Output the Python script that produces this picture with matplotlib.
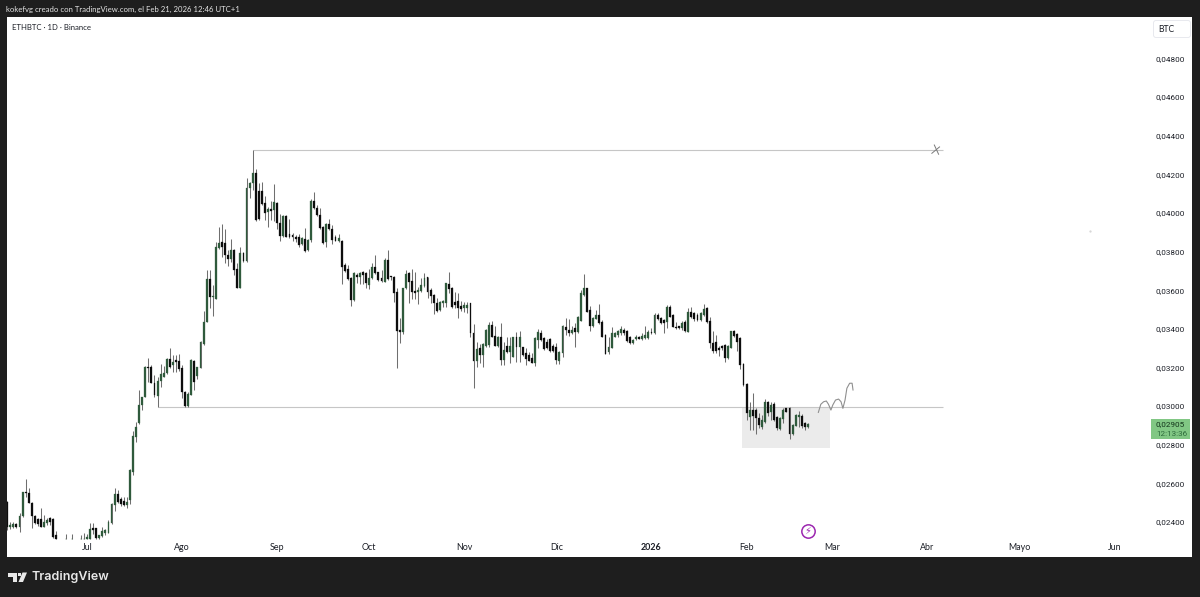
import numpy as np
import pandas as pd
import matplotlib
matplotlib.use("Agg")
import matplotlib.pyplot as plt
from matplotlib.patches import Rectangle, Polygon, FancyBboxPatch
from matplotlib.transforms import IdentityTransform

plt.rcParams['font.family'] = ['Lato', 'DejaVu Sans']

# Daily ETHBTC quotes from 2025-06-05, in units of 0.00001 BTC
n = float('nan')
opens = [2505,2375,2375,2389,2375,2430,2553,2551,2499,2430,2413,2413,2375,2392,2418,2415,2332,n,n,2310,n,2310,n,n,2310,2310,
 2310,2310,2367,2367,2315,2327,2344,2344,2396,2487,2543,2517,2510,2487,2513,2660,2841,2910,3005,3048,3200,3204,3121,3052,
 3131,3152,3169,3242,3212,3238,3235,3195,3074,3002,3057,3235,3155,3195,3321,3437,3656,3563,3552,3817,3851,3843,3782,3760,3808,3708,
 3610,3794,3753,4131,4153,4209,4115,4115,4050,4005,4019,4015,4050,3946,3881,3984,3891,3886,3877,3874,3839,3863,3808,3860,
 4062,4024,3990,3926,3851,3943,3915,3874,3855,3856,3730,3708,3661,3549,3679,3670,3696,3687,3627,3661,3718,3692,3661,3644,3756,3672,
 3670,3592,3394,3385,3610,3687,3649,3597,3593,3597,3622,3667,3601,3575,3535,3497,3532,3535,3632,3613,3540,3544,3520,3506,3507,3532,
 3376,3235,3298,3264,3311,3316,3420,3363,3311,3356,3238,3311,3281,3256,3359,3304,3304,3273,3264,3250,3221,3342,3380,3351,3330,3345,
 3311,3307,3235,3276,3411,3394,3380,3402,3385,3442,3575,3609,3497,3414,3449,3471,3436,3367,3281,3303,3359,3367,3376,3393,3390,3359,
 3324,3345,3355,3345,3350,3350,3384,3376,3471,3454,3445,3433,3514,3471,3411,3412,3402,3436,3385,3488,3480,3471,3445,3471,3506,3442,
 3324,3333,3298,3310,3316,3247,3302,3390,3373,3350,3217,3114,2944,2979,2979,2936,2893,2919,3022,2970,3013,2944,2879,2931,2988,2991,
 2855,2896,2941,2948,2910,2893]
highs = [2510,2401,2401,2396,2444,2556,2622,2574,2503,2433,2418,2470,2436,2418,2427,2418,2354,n,n,2337,n,2337,n,n,2332,2340,
 2337,2392,2392,2370,2332,2375,2365,2410,2499,2574,2565,2531,2531,2531,2672,2872,2919,3083,3048,3207,3247,3212,3160,3152,
 3217,3207,3247,3299,3264,3264,3269,3212,3080,3074,3242,3238,3204,3337,3494,3704,3704,3627,3851,3926,3943,3915,3808,3863,3812,3739,
 3822,3800,4179,4162,4326,4226,4153,4159,4088,4033,4064,4148,4058,3995,3989,3989,3967,3894,3886,3891,3877,3924,3863,4071,
 4110,4041,4024,3933,3946,3967,3938,3886,3889,3860,3739,3730,3667,3692,3687,3696,3701,3696,3708,3739,3782,3696,3705,3765,3808,3673,
 3673,3613,3454,3613,3705,3696,3710,3696,3618,3661,3691,3670,3610,3580,3558,3544,3549,3639,3696,3615,3592,3584,3544,3540,3540,3535,
 3423,3333,3321,3325,3397,3437,3440,3414,3363,3432,3333,3359,3359,3359,3385,3390,3307,3299,3281,3276,3356,3397,3394,3356,3345,3351,
 3321,3328,3285,3418,3454,3449,3414,3428,3466,3601,3683,3613,3518,3462,3497,3528,3445,3373,3355,3407,3385,3393,3416,3402,3393,3362,
 3345,3367,3362,3376,3414,3393,3402,3480,3480,3459,3449,3523,3523,3476,3436,3414,3442,3445,3506,3514,3488,3480,3488,3528,3514,3459,
 3390,3367,3310,3316,3321,3316,3390,3393,3376,3355,3221,3117,3022,3065,2988,2962,2953,3034,3027,3022,3019,2948,2944,2988,2991,2993,
 2906,2958,2975,2958,2918,2913]
lows = [2360,2361,2367,2367,2349,2427,2527,2496,2366,2389,2379,2372,2372,2384,2384,2315,2310,n,n,2310,n,2310,n,n,2310,2310,
 2310,2310,2337,2310,2310,2323,2330,2344,2389,2458,2499,2482,2482,2470,2493,2643,2815,2907,2979,3045,3126,3117,3048,2996,
 3097,3148,3166,3195,3178,3178,3183,3040,2996,2996,3057,3083,3138,3195,3316,3437,3506,3466,3552,3812,3774,3739,3725,3748,3679,3610,
 3610,3748,3748,4076,4119,3960,3963,4041,3963,3926,3963,3958,3915,3855,3874,3874,3869,3856,3851,3822,3834,3799,3805,3851,
 4019,3984,3915,3839,3822,3912,3839,3853,3851,3632,3695,3653,3518,3546,3635,3632,3632,3610,3606,3656,3684,3649,3644,3644,3653,3655,
 3541,3195,3325,3371,3604,3532,3553,3553,3527,3592,3618,3558,3535,3477,3489,3492,3515,3511,3584,3506,3506,3458,3494,3489,3484,3356,
 3091,3200,3224,3200,3307,3307,3356,3311,3307,3212,3212,3276,3224,3252,3230,3230,3259,3212,3235,3221,3207,3299,3338,3290,3294,3281,
 3281,3218,3218,3256,3368,3362,3373,3307,3380,3438,3571,3485,3390,3411,3449,3424,3355,3267,3267,3298,3355,3355,3367,3367,3333,3321,
 3321,3341,3345,3341,3345,3345,3373,3373,3445,3424,3380,3402,3459,3407,3398,3397,3393,3385,3381,3454,3442,3442,3442,3466,3431,3298,
 3276,3276,3259,3290,3229,3243,3300,3355,3286,3190,3103,2927,2875,2875,2855,2884,2879,2913,2948,2927,2924,2875,2875,2910,2967,2827,
 2849,2896,2893,2884,2875,2884]
closes = [2375,2384,2389,2375,2430,2553,2548,2499,2430,2392,2389,2375,2401,2410,2401,2323,2310,n,n,2310,n,2310,n,n,2310,2310,
 2323,2363,2358,2315,2332,2354,2358,2401,2493,2543,2505,2493,2487,2505,2669,2845,2893,3005,3048,3200,3196,3121,3057,3131,
 3166,3169,3242,3204,3230,3230,3190,3074,3002,3062,3238,3126,3200,3331,3433,3656,3563,3570,3822,3843,3825,3782,3760,3808,3704,3610,
 3794,3753,4131,4153,4209,3963,3967,4046,4001,4019,4012,4057,3946,3881,3984,3877,3877,3874,3863,3834,3869,3805,3860,4062,
 4024,3990,3920,3846,3943,3915,3860,3857,3872,3722,3701,3656,3549,3687,3667,3691,3679,3635,3661,3718,3687,3653,3649,3756,3656,3667,
 3587,3390,3385,3610,3682,3644,3592,3587,3601,3627,3665,3592,3570,3532,3494,3541,3546,3635,3604,3515,3523,3506,3503,3523,3525,3376,
 3235,3294,3264,3321,3394,3420,3359,3311,3359,3238,3290,3281,3311,3356,3304,3359,3264,3242,3235,3225,3351,3385,3342,3294,3299,3287,
 3287,3238,3281,3414,3394,3376,3394,3385,3462,3583,3609,3488,3416,3454,3471,3428,3359,3272,3307,3380,3376,3388,3397,3380,3338,3324,
 3341,3355,3348,3362,3367,3385,3376,3474,3449,3428,3428,3514,3462,3411,3402,3402,3428,3390,3488,3459,3449,3445,3480,3502,3437,3324,
 3286,3286,3290,3298,3247,3310,3390,3362,3333,3212,3108,2962,2979,2948,2936,2901,2927,3022,2962,3005,2927,2884,2936,2979,2970,2855,
 2901,2953,2953,2896,2889,2905]

# Price scale ticks and month labels
price_ticks = [0.024, 0.026, 0.028, 0.030, 0.032, 0.034, 0.036, 0.038, 0.040, 0.042, 0.044, 0.046, 0.048]
month_starts = ['2025-07-01', '2025-08-01', '2025-09-01', '2025-10-01', '2025-11-01', '2025-12-01',
                '2026-01-01', '2026-02-01', '2026-03-01', '2026-04-01', '2026-05-01', '2026-06-01']
month_names = ['Jul', 'Ago', 'Sep', 'Oct', 'Nov', 'Dic', '2026', 'Feb', 'Mar', 'Abr', 'Mayo', 'Jun']

# Hand-drawn annotations, as (day offset, price)
top_level = 0.04326
top_level_days = (80, 305)
support_level = 0.02995
support_level_days = (49, 305)
zone_days = (239.6, 268.3)
zone_prices = (0.02782, 0.02990)
sketch_days = [264.4, 265.2, 266.1, 267.0, 267.7, 268.5, 269.1, 270.0, 271.0, 271.8, 272.4, 273.1, 273.7, 274.6, 275.4, 275.7]
sketch_prices = [0.02967, 0.03009, 0.03022, 0.03026, 0.03009, 0.02979, 0.03005, 0.03031, 0.03036, 0.03022, 0.02988,
                 0.03031, 0.03092, 0.03118, 0.03118, 0.03083]

W, H = 1200, 597
BG = '#1e1e1e'
TEXT = '#1b1e26'
NUM_FONT = 'Roboto'
start = pd.Timestamp('2025-06-05')
scale = 1e-5

fig = plt.figure(figsize=(W / 100, H / 100), dpi=100, facecolor=BG)
L, R, T, B = 7, 1192, 17, 557
ax = fig.add_axes([L / W, 1 - B / H, (R - L) / W, (B - T) / H], facecolor='white')
for s in ax.spines.values():
    s.set_visible(False)

ax.set_xlim(-0.08, 386.2)
ax.set_ylim(0.02218, 0.05015)

days = np.arange(len(closes))
o, h, l, c = [np.array(a, dtype=float) * scale for a in (opens, highs, lows, closes)]
up = c >= o
UP_COL, DOWN_COL = '#2f5a3c', '#0d0d0d'

# Zone behind the candles
ax.add_patch(Rectangle((zone_days[0], zone_prices[0]), zone_days[1] - zone_days[0],
                       zone_prices[1] - zone_prices[0], facecolor='#ebebeb', edgecolor='none', zorder=1))

# Candles
ax.vlines(days, l, h, color='#6f6f6f', linewidth=0.75, zorder=3)
ax.bar(days[up], (c - o)[up], bottom=o[up], width=0.62, color=UP_COL,
       edgecolor=UP_COL, linewidth=0.2, zorder=4)
ax.bar(days[~up], (c - o)[~up], bottom=o[~up], width=0.62, color=DOWN_COL,
       edgecolor=DOWN_COL, linewidth=0.2, zorder=4)

# Horizontal levels
LINE = '#c6c6c6'
ax.plot(top_level_days, [top_level] * 2, color=LINE, lw=0.8, zorder=2, solid_capstyle='butt')
ax.plot(support_level_days, [support_level] * 2, color=LINE, lw=0.8, zorder=2, solid_capstyle='butt')

# Cross at the end of the upper level
ax.plot([302.2, 303.6], [0.04352, 0.04304], color='#7a7a7a', lw=0.7, zorder=5)
ax.plot([303.9, 301.4], [0.04342, 0.04309], color='#7a7a7a', lw=0.7, zorder=5)

# Projected path sketch
ax.plot(sketch_days, sketch_prices, color='#8f8f8f', lw=0.8, zorder=5, solid_joinstyle='round')

# Tiny stray drawing dot
ax.plot([353], [0.03906], marker='.', ms=1.2, color='#d4d4d4', zorder=2)

# Price axis drawn inside the white panel
ax.yaxis.tick_right()
ax.set_yticks(price_ticks)
ax.set_yticklabels([f'{p:.5f}'.replace('.', ',') for p in price_ticks], family=NUM_FONT, va='center_baseline')
ax.tick_params(axis='y', length=0, pad=-26.5, labelsize=5.9, labelcolor=TEXT)

# Time axis drawn inside the white panel
ticks = [(pd.Timestamp(d) - start).days for d in month_starts]
ax.set_xticks(ticks)
ax.set_xticklabels(month_names)
ax.tick_params(axis='x', length=0, pad=-9.9, labelsize=6.4, labelcolor=TEXT)
for lab in ax.get_xticklabels():
    if lab.get_text() == '2026':
        lab.set_fontweight('bold')


def fx(x):
    return x / W


def fy(y):
    return 1 - y / H


# Header texts
fig.text(fx(6), fy(9.5), 'kokefvg creado con TradingView.com, el Feb 21, 2026 12:46 UTC+1',
         color='#e4e4e4', fontsize=5.6, va='center', ha='left')
fig.text(fx(12), fy(27.5), 'ETHBTC · 1D · Binance', color=TEXT, fontsize=5.6, va='center', ha='left')

# Currency box
fig.add_artist(FancyBboxPatch((1155, H - 36), 34, 14, boxstyle='round,pad=1.5,rounding_size=2.5',
                              transform=IdentityTransform(), facecolor='white', edgecolor='#e8e9ee', linewidth=0.7))
fig.text(fx(1166), fy(29), 'BTC', color=TEXT, fontsize=6.2, ha='center', va='center')

# Last price tag
fig.add_artist(Rectangle((fx(1151), fy(439)), 39 / W, 20 / H, transform=fig.transFigure,
                         facecolor='#81c784', edgecolor='none'))
fig.text(fx(1156), fy(424.5), f'{closes[-1] * scale:.5f}'.replace('.', ','), color='#12331a',
         fontsize=5.9, ha='left', va='center', family=NUM_FONT)
fig.text(fx(1156.5), fy(433.5), '12:13:36', color='#2e6b3c', fontsize=5.9, ha='left', va='center', family=NUM_FONT)

# Event marker near the bottom of the chart
ax.plot([261], [0.02352], marker='o', ms=9.6, mfc='white', mec='#9c27b0', mew=1.1, zorder=6, ls='none')
ax.text(261, 0.02352, '\u26a1', color='#9c27b0', fontsize=7, ha='center', va='center', zorder=7,
        family='DejaVu Sans')

# Footer logo and wordmark
WHITE = '#e8e8e8'
for pts in ([(8, 572.5), (17, 572.5), (17, 582), (13, 582), (13, 576.5), (8, 576.5)],
            [(22.5, 572.5), (27, 572.5), (23, 582), (18.5, 582)],
            [(18, 572.5), (21, 572.5), (21, 575.5), (18, 575.5)]):
    fig.add_artist(Polygon([(fx(x), fy(y)) for x, y in pts], closed=True, transform=fig.transFigure,
                           facecolor=WHITE, edgecolor='none'))
fig.text(fx(31.5), fy(577), 'TradingView', color=WHITE, fontsize=9.0, fontweight='semibold',
         ha='left', va='center', family='Inter')

fig.savefig('out.png', dpi=100, facecolor=BG)
